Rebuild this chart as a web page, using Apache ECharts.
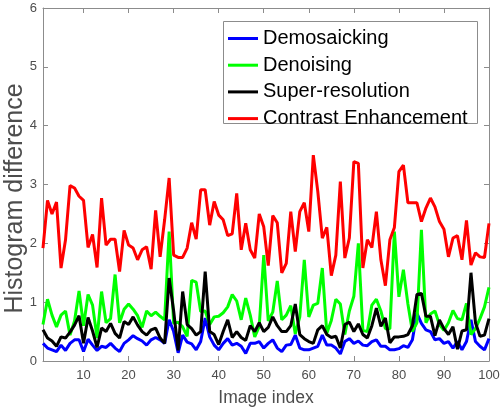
<!DOCTYPE html>
<html>
<head>
<meta charset="utf-8">
<script src="https://cdn.jsdelivr.net/npm/echarts@6/dist/echarts.min.js"></script>
<style>html,body{margin:0;padding:0;background:#fff}#c{width:502px;height:409px}</style>
</head>
<body>
<div id="c"></div>
<script>
var seriesNames = ['Demosaicking', 'Denoising', 'Super-resolution', 'Contrast Enhancement'];
var xTicks = [10, 20, 30, 40, 50, 60, 70, 80, 90, 100];
var yTicks = [0, 1, 2, 3, 4, 5, 6];

var demosaicking = [
0.30,0.22,0.19,0.16,0.27,0.18,0.30,0.36,0.36,0.16,
0.37,0.27,0.18,0.25,0.23,0.30,0.22,0.16,0.30,0.36,
0.43,0.38,0.34,0.27,0.36,0.40,0.36,0.30,0.70,0.50,
0.14,0.44,0.32,0.29,0.19,0.33,0.73,0.41,0.27,0.19,
0.30,0.38,0.27,0.30,0.25,0.13,0.30,0.30,0.33,0.22,
0.30,0.36,0.22,0.16,0.27,0.28,0.44,0.22,0.19,0.19,
0.22,0.25,0.44,0.27,0.27,0.22,0.12,0.33,0.38,0.30,
0.34,0.27,0.26,0.33,0.36,0.25,0.25,0.19,0.19,0.21,
0.26,0.23,0.36,0.81,0.64,0.53,0.50,0.36,0.38,0.30,
0.33,0.22,0.33,0.19,0.33,0.70,0.33,0.25,0.19,0.38];

var denoising = [
0.62,1.05,0.78,0.58,0.78,0.85,0.44,0.68,1.19,0.60,
1.13,0.95,0.39,1.18,0.65,0.72,1.47,0.65,0.88,0.97,
0.88,0.77,0.57,0.85,0.77,0.83,0.76,0.70,2.20,0.64,
0.66,0.58,0.42,1.37,1.34,0.84,0.85,0.62,0.75,0.76,
0.82,0.92,1.13,1.02,0.70,1.07,0.78,0.41,0.59,1.80,
0.68,0.83,1.36,0.70,0.78,0.94,0.46,0.75,1.72,0.75,
0.95,0.98,1.58,0.47,0.69,1.05,0.97,0.45,0.85,1.10,
2.00,0.52,0.50,0.95,1.05,0.85,0.55,0.55,2.20,1.09,
1.55,0.97,0.50,0.65,2.23,0.65,0.80,0.85,0.62,0.52,
0.65,0.86,0.72,0.70,0.98,0.45,0.55,0.72,0.92,1.25];

var superResolution = [
0.53,0.39,0.34,0.25,0.41,0.39,0.49,0.61,0.77,0.30,
0.74,0.51,0.23,0.56,0.50,0.64,0.47,0.39,0.67,0.62,
0.75,0.61,0.50,0.44,0.53,0.56,0.39,0.30,1.41,0.85,
0.18,1.18,0.62,0.55,0.44,0.50,1.52,0.50,0.45,0.28,
0.50,0.70,0.40,0.50,0.40,0.35,0.60,0.50,0.65,0.50,
0.57,0.75,0.60,0.50,0.50,0.60,0.97,0.45,0.38,0.33,
0.30,0.53,0.60,0.45,0.40,0.42,0.22,0.62,0.66,0.50,
0.63,0.45,0.39,0.60,0.90,0.59,0.73,0.31,0.41,0.41,
0.42,0.45,0.60,1.13,1.15,0.76,0.76,0.43,0.70,0.55,
0.45,0.58,0.20,0.51,0.53,1.50,0.65,0.42,0.44,0.72];

var contrastEnhancement = [
1.92,2.73,2.50,2.70,1.58,2.06,2.98,2.94,2.80,2.73,
1.93,2.15,1.59,2.77,1.97,2.07,2.07,1.52,2.22,1.97,
1.92,1.72,1.89,1.94,1.56,2.56,1.77,2.40,3.11,1.80,
1.76,1.76,1.92,2.35,2.07,2.91,2.91,2.31,2.71,2.48,
2.40,2.13,2.16,2.85,1.89,2.34,1.89,1.75,2.50,2.28,
1.62,2.47,2.35,1.50,1.66,2.54,1.86,2.54,2.69,2.20,
3.50,2.88,2.09,2.27,1.45,1.80,3.05,1.75,2.09,3.39,
3.36,1.58,2.06,1.93,2.54,1.72,1.28,2.06,2.27,3.22,
3.33,2.69,2.69,2.69,2.37,2.60,2.77,2.62,2.37,2.24,
1.77,2.09,2.13,1.72,2.39,1.63,1.84,1.77,1.76,2.34];

var imageIndex = [];
for (var i = 1; i <= 100; i++) imageIndex.push(i);

function pairs(vals) {
  return vals.map(function (v, k) { return [imageIndex[k], v]; });
}

var FONT = "'Liberation Sans', Arial, Helvetica, sans-serif";
var AX = '#8c8c8c';
var LBL = '#4d4d4d';

var chart = echarts.init(document.getElementById('c'), null, {renderer: 'canvas'});
var colors = ['#0000ff', '#00ff00', '#000000', '#ff0000'];
var datasets = [demosaicking, denoising, superResolution, contrastEnhancement];

chart.setOption({
  animation: false,
  backgroundColor: '#ffffff',
  textStyle: {fontFamily: FONT},
  grid: {left: 43, top: 8, right: 13, bottom: 48, containLabel: false, outerBoundsMode: 'none'},
  graphic: [{
    type: 'rect', z: 0,
    shape: {x: 223.5, y: 21.5, width: 254, height: 102},
    style: {fill: '#ffffff', stroke: AX, lineWidth: 1}
  }],
  legend: {
    orient: 'vertical', left: 228, top: 28.5, padding: 0, itemGap: 6.7,
    itemWidth: 30, itemHeight: 3, icon: 'rect',
    data: seriesNames,
    textStyle: {fontFamily: FONT, fontSize: 20, color: '#000', lineHeight: 20}
  },
  xAxis: [{
    type: 'value', min: 1, max: 100, position: 'bottom',
    name: 'Image index', nameLocation: 'middle', nameGap: 28, nameMoveOverlap: false,
    nameTextStyle: {fontFamily: FONT, fontSize: 17.5, color: LBL},
    axisLine: {show: true, onZero: false, lineStyle: {color: AX, width: 1}},
    axisTick: {show: true, inside: true, length: 5, customValues: xTicks, lineStyle: {color: AX}},
    axisLabel: {show: true, customValues: xTicks, fontSize: 13, color: LBL, margin: 8, fontFamily: FONT},
    splitLine: {show: false}
  }, {
    type: 'value', min: 1, max: 100, position: 'top',
    axisLine: {show: true, onZero: false, lineStyle: {color: AX, width: 1}},
    axisTick: {show: true, inside: true, length: 5, customValues: xTicks, lineStyle: {color: AX}},
    axisLabel: {show: false, customValues: xTicks},
    splitLine: {show: false}
  }],
  yAxis: [{
    type: 'value', min: 0, max: 6, interval: 1, position: 'left',
    name: 'Histogram difference', nameLocation: 'middle', nameGap: 15, nameMoveOverlap: false,
    nameTextStyle: {fontFamily: FONT, fontSize: 25, color: LBL, padding: [0, 28, 0, 0]},
    axisLine: {show: true, onZero: false, lineStyle: {color: AX, width: 1}},
    axisTick: {show: true, inside: true, length: 5, lineStyle: {color: AX}},
    axisLabel: {show: true, fontSize: 13, color: LBL, margin: 6, fontFamily: FONT,
      formatter: function (v) { return yTicks.indexOf(v) >= 0 ? String(v) : ''; }},
    splitLine: {show: false}
  }, {
    type: 'value', min: 0, max: 6, interval: 1, position: 'right',
    axisLine: {show: true, onZero: false, lineStyle: {color: AX, width: 1}},
    axisTick: {show: true, inside: true, length: 5, lineStyle: {color: AX}},
    axisLabel: {show: false},
    splitLine: {show: false}
  }],
  series: seriesNames.map(function (name, k) {
    return {
      name: name, type: 'line', xAxisIndex: 0, yAxisIndex: 0,
      data: pairs(datasets[k]),
      symbol: 'none', showSymbol: false,
      color: colors[k],
      lineStyle: {color: colors[k], width: 3},
      emphasis: {disabled: true}
    };
  })
});
</script>
</body>
</html>
